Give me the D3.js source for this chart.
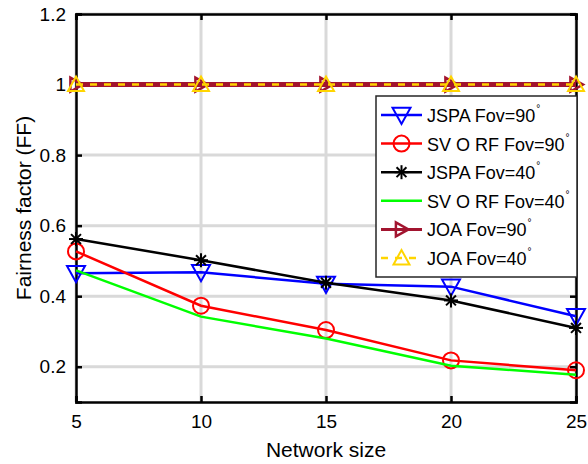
<!DOCTYPE html>
<html>
<head>
<meta charset="utf-8">
<script src="https://cdn.jsdelivr.net/npm/d3@7"></script>
<style>
  body { margin: 0; background: #fff; }
  text { font-family: "Liberation Sans", Arial, sans-serif; }
</style>
</head>
<body>
<svg id="chart"></svg>
<script>
// data
const networkSizes = [5, 10, 15, 20, 25];
const jspa90 = [0.465, 0.468, 0.435, 0.427, 0.343];
const svorf90 = [0.527, 0.373, 0.304, 0.218, 0.19];
const jspa40 = [0.562, 0.502, 0.438, 0.388, 0.31];
const svorf40 = [0.473, 0.342, 0.28, 0.203, 0.177];
const joa90 = [1, 1, 1, 1, 1];
const joa40 = [1, 1, 1, 1, 1];
const xTicks = [5, 10, 15, 20, 25];
const yTicks = [0.2, 0.4, 0.6, 0.8, 1, 1.2];

const series = [
  {name: 'JSPA Fov=90', values: jspa90, color: '#0000ff', marker: 'tridown', dash: null},
  {name: 'SV O RF Fov=90', values: svorf90, color: '#ff0000', marker: 'circle', dash: null},
  {name: 'JSPA Fov=40', values: jspa40, color: '#000000', marker: 'star', dash: null},
  {name: 'SV O RF Fov=40', values: svorf40, color: '#00ff00', marker: null, dash: null},
  {name: 'JOA Fov=90', values: joa90, color: '#a2142f', marker: 'triright', dash: null},
  {name: 'JOA Fov=40', values: joa40, color: '#ffd500', marker: 'triup', dash: '7,7'}
];

const W = 588, H = 464;
const margin = {top: 14, right: 12, bottom: 62, left: 76};
const width = W - margin.left - margin.right;
const height = H - margin.top - margin.bottom;

const svg = d3.select('#chart').attr('width', W).attr('height', H);
const g = svg.append('g').attr('transform', `translate(${margin.left},${margin.top})`);

const x = d3.scaleLinear().domain([5, 25]).range([0, width]);
const y = d3.scaleLinear().domain([0.1, 1.2]).range([height, 0]);

// grid
g.append('g').selectAll('line.gx')
  .data(xTicks)
  .join('line')
  .attr('x1', d => x(d)).attr('x2', d => x(d))
  .attr('y1', 0).attr('y2', height)
  .attr('stroke', '#d9d9d9').attr('stroke-width', 3);
g.append('g').selectAll('line.gy')
  .data(yTicks)
  .join('line')
  .attr('x1', 0).attr('x2', width)
  .attr('y1', d => y(d)).attr('y2', d => y(d))
  .attr('stroke', '#d9d9d9').attr('stroke-width', 3);

// axes (matlab style, inward ticks)
const xAxis = d3.axisBottom(x).tickValues(xTicks).tickSize(-6).tickPadding(13).tickFormat(d3.format('d'));
const yAxis = d3.axisLeft(y).tickValues(yTicks).tickSize(-6).tickPadding(10).tickFormat(d => d === 1 ? '1' : d3.format('.1f')(d));

g.append('g').attr('transform', `translate(0,${height})`).call(xAxis)
  .call(a => a.selectAll('text').attr('font-size', 19).attr('fill', '#000'));
g.append('g').call(yAxis)
  .call(a => a.selectAll('text').attr('font-size', 19).attr('fill', '#000'));
g.append('g').attr('transform', `translate(${width},0)`)
  .call(d3.axisRight(y).tickValues(yTicks).tickSize(-6).tickFormat(''));
g.append('g')
  .call(d3.axisTop(x).tickValues(xTicks).tickSize(-6).tickFormat(''));
g.selectAll('.domain').attr('stroke', '#000').attr('stroke-width', 2.5);
g.selectAll('.tick line').attr('stroke', '#000').attr('stroke-width', 2.5);

const line = d3.line().x((d, i) => x(networkSizes[i])).y(d => y(d));

const tri = (cx, cy, r, dir) => {
  let pts;
  if (dir === 'down') pts = [[cx - r, cy - r * 0.8], [cx + r, cy - r * 0.8], [cx, cy + r]];
  else if (dir === 'up') pts = [[cx - r, cy + r * 0.8], [cx + r, cy + r * 0.8], [cx, cy - r]];
  else pts = [[cx - r * 0.8, cy - r], [cx - r * 0.8, cy + r], [cx + r, cy]];
  return 'M' + pts.map(p => p.join(',')).join('L') + 'Z';
};

function drawMarker(sel, type, cx, cy, color) {
  if (type === 'circle') {
    sel.append('circle').attr('cx', cx).attr('cy', cy).attr('r', 8)
      .attr('fill', 'none').attr('stroke', color).attr('stroke-width', 2);
  } else if (type === 'tridown') {
    sel.append('path').attr('d', tri(cx, cy, 9, 'down'))
      .attr('fill', 'none').attr('stroke', color).attr('stroke-width', 2);
  } else if (type === 'triup') {
    sel.append('path').attr('d', tri(cx, cy, 8, 'up'))
      .attr('fill', 'none').attr('stroke', color).attr('stroke-width', 2);
  } else if (type === 'triright') {
    sel.append('path').attr('d', tri(cx, cy, 7, 'right'))
      .attr('fill', 'none').attr('stroke', color).attr('stroke-width', 2.5);
  } else if (type === 'star') {
    const r = 7;
    [0, 45, 90, 135].forEach(a => {
      const rad = a * Math.PI / 180;
      sel.append('line')
        .attr('x1', cx - r * Math.cos(rad)).attr('y1', cy - r * Math.sin(rad))
        .attr('x2', cx + r * Math.cos(rad)).attr('y2', cy + r * Math.sin(rad))
        .attr('stroke', color).attr('stroke-width', 2);
    });
  }
}

series.forEach(s => {
  g.append('path').datum(s.values)
    .attr('d', line)
    .attr('fill', 'none')
    .attr('stroke', s.color)
    .attr('stroke-width', s.dash ? 2.5 : (s.name.startsWith('JOA') ? 5 : 2.5))
    .attr('stroke-dasharray', s.dash);
  if (s.marker) {
    const mg = g.append('g');
    s.values.forEach((v, i) => drawMarker(mg, s.marker, x(networkSizes[i]), y(v), s.color));
  }
});

// legend
const lg = svg.append('g').attr('transform', 'translate(376,96)');
lg.append('rect').attr('width', 201).attr('height', 181)
  .attr('fill', '#fff').attr('stroke', '#262626').attr('stroke-width', 1.5);
series.forEach((s, i) => {
  const cy = 19 + i * 28.6;
  const row = lg.append('g');
  row.append('line').attr('x1', 5).attr('x2', 46).attr('y1', cy).attr('y2', cy)
    .attr('stroke', s.color).attr('stroke-width', s.name === 'JOA Fov=90' ? 3 : 2.5)
    .attr('stroke-dasharray', s.dash);
  if (s.marker) drawMarker(row, s.marker, 25.5, cy, s.color);
  const t = row.append('text').attr('x', 51).attr('y', cy + 7).attr('font-size', 18).attr('fill', '#000');
  t.append('tspan').text(s.name);
  t.append('tspan').attr('font-size', 10).attr('dy', -10).attr('dx', 1).text('°');
});

// axis titles
svg.append('text').attr('x', margin.left + width / 2).attr('y', 457)
  .attr('text-anchor', 'middle').attr('font-size', 21).text('Network size');
svg.append('text').attr('transform', `translate(31,${margin.top + height / 2}) rotate(-90)`)
  .attr('text-anchor', 'middle').attr('font-size', 21).text('Fairness factor (FF)');
</script>
</body>
</html>
